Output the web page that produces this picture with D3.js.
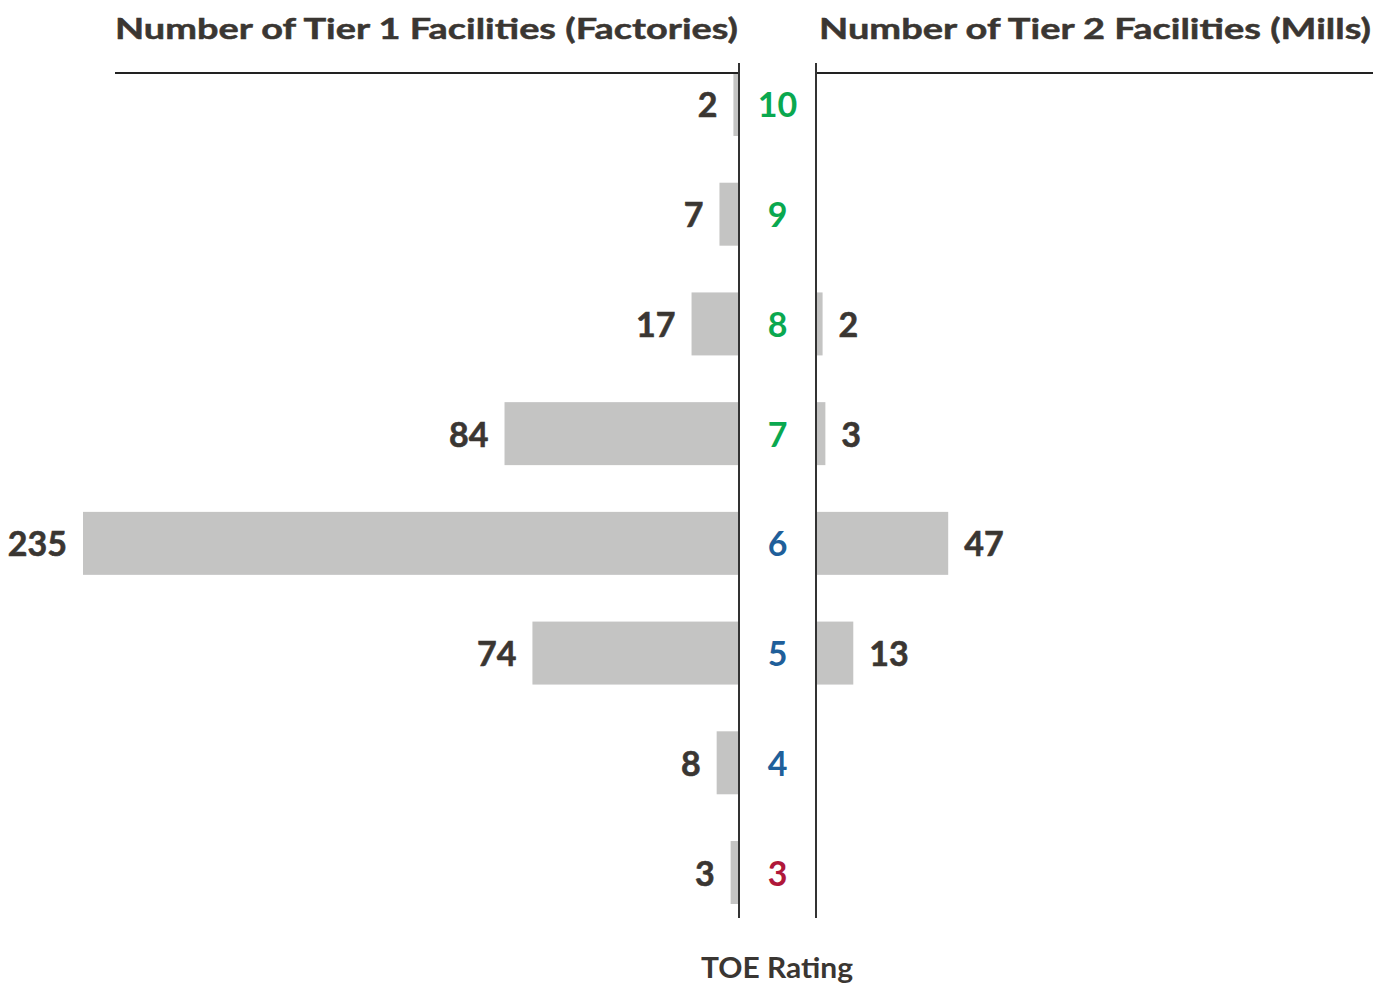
<!DOCTYPE html>
<html><head><meta charset="utf-8">
<script src="https://cdn.jsdelivr.net/npm/d3@7"></script>
<style>body{margin:0;background:#fff}svg{display:block}text{font-family:Lato,"Open Sans",sans-serif;font-weight:700}</style>
</head><body><svg id="c" width="1385" height="984"></svg>
<script>
const ratings = [10, 9, 8, 7, 6, 5, 4, 3];
const tier1 = [2, 7, 17, 84, 235, 74, 8, 3];
const tier2 = [0, 0, 2, 3, 47, 13, 0, 0];
const ratingColors = ["#0aa84f","#0aa84f","#0aa84f","#0aa84f","#1f5f9a","#1f5f9a","#1f5f9a","#b0173a"];
const titleLeft = "Number of Tier 1 Facilities (Factories)";
const titleRight = "Number of Tier 2 Facilities (Mills)";
const axisTitle = "TOE Rating";

const svg = d3.select("#c");
const ink = "#3a3632", barFill = "#c4c4c3";
const leftAxisX = 739, rightAxisX = 816;
const pxPerUnit = 656/235;

const y = d3.scaleBand().domain(ratings).range([73, 904]).paddingInner(0.426).paddingOuter(0);
const xL = d3.scaleLinear().domain([0, 235]).range([leftAxisX, leftAxisX - 235*pxPerUnit]);
const xR = d3.scaleLinear().domain([0, 235]).range([rightAxisX + 1, rightAxisX + 1 + 235*pxPerUnit]);

// bars
svg.append("g").selectAll("rect").data(ratings).join("rect")
  .attr("x", (d,i) => xL(tier1[i])).attr("y", d => y(d))
  .attr("width", (d,i) => xL(0) - xL(tier1[i])).attr("height", y.bandwidth())
  .attr("fill", barFill);
svg.append("g").selectAll("rect").data(ratings.filter((d,i)=>tier2[i]>0)).join("rect")
  .attr("x", xR(0)).attr("y", d => y(d))
  .attr("width", d => xR(tier2[ratings.indexOf(d)]) - xR(0)).attr("height", y.bandwidth())
  .attr("fill", barFill);

// axis lines
svg.append("line").attr("x1",115).attr("x2",leftAxisX).attr("y1",73).attr("y2",73).attr("stroke","#222").attr("stroke-width",2);
svg.append("line").attr("x1",rightAxisX).attr("x2",1373).attr("y1",73).attr("y2",73).attr("stroke","#222").attr("stroke-width",2);
svg.append("line").attr("x1",leftAxisX).attr("x2",leftAxisX).attr("y1",63).attr("y2",918).attr("stroke","#333").attr("stroke-width",2);
svg.append("line").attr("x1",rightAxisX).attr("x2",rightAxisX).attr("y1",63).attr("y2",918).attr("stroke","#333").attr("stroke-width",2);

// value labels
const fs = 34;
svg.append("g").selectAll("text").data(ratings).join("text")
  .attr("x", (d,i) => xL(tier1[i]) - 16).attr("y", d => y(d) + y.bandwidth()/2 + 13)
  .attr("text-anchor","end").attr("font-size",fs).attr("fill",ink)
  .attr("stroke",ink).attr("stroke-width",0.6)
  .text((d,i) => tier1[i]);
svg.append("g").selectAll("text").data(ratings.filter((d,i)=>tier2[i]>0)).join("text")
  .attr("x", d => xR(tier2[ratings.indexOf(d)]) + 16).attr("y", d => y(d) + y.bandwidth()/2 + 13)
  .attr("text-anchor","start").attr("font-size",fs).attr("fill",ink)
  .attr("stroke",ink).attr("stroke-width",0.6)
  .text(d => tier2[ratings.indexOf(d)]);

// rating labels
svg.append("g").selectAll("text").data(ratings).join("text")
  .attr("x", (leftAxisX+rightAxisX)/2).attr("y", d => y(d) + y.bandwidth()/2 + 13)
  .attr("text-anchor","middle").attr("font-size",fs).attr("fill",(d,i)=>ratingColors[i])
  .text(d => d);

// titles
svg.append("text").attr("x",115).attr("y",39).attr("font-size",29).attr("fill",ink)
  .attr("stroke",ink).attr("stroke-width",0.5)
  .attr("textLength",623).attr("lengthAdjust","spacingAndGlyphs").text(titleLeft);
svg.append("text").attr("x",819).attr("y",39).attr("font-size",29).attr("fill",ink)
  .attr("stroke",ink).attr("stroke-width",0.5)
  .attr("textLength",552).attr("lengthAdjust","spacingAndGlyphs").text(titleRight);
svg.append("text").attr("x",777).attr("y",978).attr("text-anchor","middle").attr("font-size",29).attr("fill",ink)
  .attr("textLength",152).attr("lengthAdjust","spacingAndGlyphs")
  .text(axisTitle);
</script></body></html>
